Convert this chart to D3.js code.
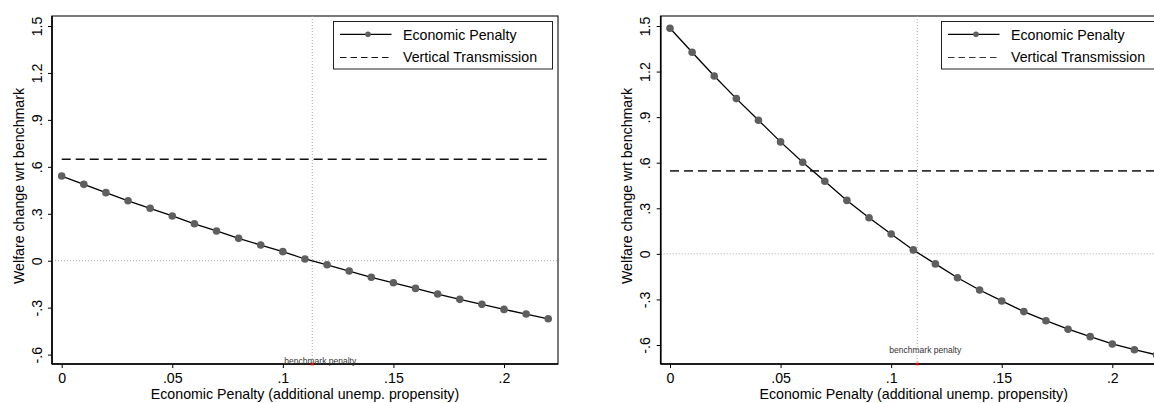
<!DOCTYPE html>
<html>
<head>
<meta charset="utf-8">
<script src="https://cdn.jsdelivr.net/npm/d3@7"></script>
<style>
  html, body { margin: 0; padding: 0; background: #fff; overflow: hidden; }
  svg { display: block; font-family: "Liberation Sans", Arial, sans-serif; }
</style>
</head>
<body>
<svg id="chart" width="1154" height="403"></svg>
<script>
// ---- data ----
const penalty = [0, 0.01, 0.02, 0.03, 0.04, 0.05, 0.06, 0.07, 0.08, 0.09, 0.10,
                 0.11, 0.12, 0.13, 0.14, 0.15, 0.16, 0.17, 0.18, 0.19, 0.20, 0.21, 0.22];
const welfareLeft = [0.541, 0.488, 0.435, 0.383, 0.335, 0.286, 0.236, 0.190, 0.143, 0.100, 0.058,
                     0.011, -0.026, -0.066, -0.106, -0.141, -0.177, -0.213, -0.247, -0.279, -0.311, -0.341, -0.371];
const welfareRight = [1.485, 1.327, 1.171, 1.022, 0.880, 0.737, 0.603, 0.478, 0.352, 0.238, 0.131,
                      0.026, -0.066, -0.157, -0.238, -0.310, -0.380, -0.440, -0.496, -0.545, -0.593, -0.631, -0.665];
const verticalLeft = 0.648;
const verticalRight = 0.546;
const benchmarkLeft = 0.1133;
const benchmarkRight = 0.1118;
const yTicks = [-0.6, -0.3, 0, 0.3, 0.6, 0.9, 1.2, 1.5];
const yTickLabels = ["-.6", "-.3", "0", ".3", ".6", ".9", "1.2", "1.5"];
const xTicks = [0, 0.05, 0.1, 0.15, 0.2];
const xTickLabels = ["0", ".05", ".1", ".15", ".2"];
const legendLabels = ["Economic Penalty", "Vertical Transmission"];
const xTitle = "Economic Penalty (additional unemp. propensity)";
const yTitle = "Welfare change wrt benchmark";
const benchLabel = "benchmark penalty";

const FS = 14.2;
const svg = d3.select("#chart");

function drawPanel(p) {
  const g = svg.append("g");
  const clipId = "clip" + p.id;
  g.append("clipPath").attr("id", clipId)
    .append("rect").attr("x", p.left).attr("y", p.top)
    .attr("width", p.right - p.left).attr("height", p.bottom - p.top);

  const x = d3.scaleLinear().domain([0, 0.2]).range([p.x0, p.x02]);
  const y = d3.scaleLinear().domain([-0.6, 1.5]).range([p.yLow, p.yHigh]);

  // frame
  g.append("rect").attr("x", p.left).attr("y", p.top)
    .attr("width", p.right - p.left).attr("height", p.bottom - p.top)
    .attr("fill", "none").attr("stroke", "#222").attr("stroke-width", 1.2);

  const plot = g.append("g").attr("clip-path", `url(#${clipId})`);

  // zero reference line
  plot.append("line")
    .attr("x1", p.left).attr("x2", p.right)
    .attr("y1", y(0)).attr("y2", y(0))
    .attr("stroke", "#aaa").attr("stroke-width", 1).attr("stroke-dasharray", "1,2");
  // benchmark vertical line
  plot.append("line")
    .attr("x1", x(p.bench)).attr("x2", x(p.bench))
    .attr("y1", p.top).attr("y2", p.bottom)
    .attr("stroke", "#aaa").attr("stroke-width", 1).attr("stroke-dasharray", "1,2");

  // vertical transmission dashed line
  plot.append("line")
    .attr("x1", x(penalty[0])).attr("x2", x(penalty[penalty.length - 1]))
    .attr("y1", y(p.vt)).attr("y2", y(p.vt))
    .attr("stroke", p.dashColor).attr("stroke-width", p.dashWidth).attr("stroke-dasharray", "9,5");

  // series line
  const line = d3.line().x((d, i) => x(penalty[i])).y(d => y(d));
  plot.append("path").datum(p.values)
    .attr("d", line).attr("fill", "none").attr("stroke", "#000").attr("stroke-width", 1.3);
  plot.selectAll("circle.pt").data(p.values).enter().append("circle")
    .attr("class", "pt")
    .attr("cx", (d, i) => x(penalty[i])).attr("cy", d => y(d))
    .attr("r", 3.8).attr("fill", "#5f5f5f");

  // axes
  const yAxis = d3.axisLeft(y).tickValues(yTicks).tickSize(4)
    .tickFormat((d, i) => yTickLabels[i]);
  const ya = g.append("g").attr("transform", `translate(${p.left},0)`).call(yAxis);
  ya.select(".domain").remove();
  ya.selectAll(".tick line").attr("stroke", "#000").attr("stroke-width", 1);
  ya.selectAll(".tick text")
    .attr("x", 0).attr("dy", 0)
    .attr("transform", "translate(-10.3,0) rotate(-90)")
    .attr("text-anchor", "middle")
    .attr("font-size", FS).attr("fill", "#000")
    .attr("font-family", "Liberation Sans, Arial, sans-serif");

  const xAxis = d3.axisBottom(x).tickValues(xTicks).tickSize(4)
    .tickFormat((d, i) => xTickLabels[i]);
  const xa = g.append("g").attr("transform", `translate(0,${p.bottom})`).call(xAxis);
  xa.select(".domain").remove();
  xa.selectAll(".tick line").attr("stroke", "#000").attr("stroke-width", 1);
  xa.selectAll(".tick text").attr("y", 0).attr("dy", 0)
    .attr("transform", "translate(0,19.3)")
    .attr("font-size", FS).attr("fill", "#000")
    .attr("font-family", "Liberation Sans, Arial, sans-serif");

  // axis lines (thicker)
  g.append("line").attr("x1", p.left).attr("x2", p.left).attr("y1", p.top).attr("y2", p.bottom)
    .attr("stroke", "#000").attr("stroke-width", 1.6);
  g.append("line").attr("x1", p.left).attr("x2", p.right).attr("y1", p.bottom).attr("y2", p.bottom)
    .attr("stroke", "#000").attr("stroke-width", 1.6);

  // benchmark marker and label
  g.append("rect").attr("x", x(p.bench) - 1.5).attr("y", p.bottom - 1.3)
    .attr("width", 3).attr("height", 2.6).attr("fill", "#e00000");
  g.append("text").attr("x", x(p.bench) + 8).attr("y", p.benchLabelY)
    .attr("text-anchor", "middle").attr("font-size", 8.5).attr("fill", "#333")
    .text(benchLabel);

  // titles
  g.append("text").attr("x", (p.left + p.right) / 2).attr("y", 398.5)
    .attr("text-anchor", "middle").attr("font-size", FS).attr("fill", "#000").text(xTitle);
  g.append("text")
    .attr("transform", `translate(${p.yTitleX},${(p.top + p.bottom) / 2 - 4}) rotate(-90)`)
    .attr("text-anchor", "middle").attr("font-size", FS).attr("fill", "#000").text(yTitle);

  // legend
  const lg = g.append("g").attr("transform", `translate(${p.legX},21.5)`);
  lg.append("rect").attr("x", 0).attr("y", 0).attr("width", 219).attr("height", 47.5)
    .attr("fill", "#fff").attr("stroke", "#222").attr("stroke-width", 1);
  lg.append("line").attr("x1", 6.5).attr("x2", 58).attr("y1", 12.8).attr("y2", 12.8)
    .attr("stroke", "#000").attr("stroke-width", 1.3);
  lg.append("circle").attr("cx", 34.5).attr("cy", 12.8).attr("r", 2.8).attr("fill", "#5f5f5f");
  lg.append("line").attr("x1", 6.5).attr("x2", 58).attr("y1", 36).attr("y2", 36)
    .attr("stroke", p.dashColor).attr("stroke-width", 1.2).attr("stroke-dasharray", "6.5,4");
  lg.append("text").attr("x", 69.5).attr("y", 18).attr("font-size", FS).attr("fill", "#000")
    .text(legendLabels[0]);
  lg.append("text").attr("x", 69.5).attr("y", 40.3).attr("font-size", FS).attr("fill", "#000")
    .text(legendLabels[1]);
}

drawPanel({
  id: "L", left: 52, right: 558, top: 16, bottom: 364,
  x0: 61.7, x02: 504, yLow: 354.6, yHigh: 26,
  values: welfareLeft, vt: verticalLeft, bench: benchmarkLeft,
  dashColor: "#111", dashWidth: 1.4, benchLabelY: 364, yTitleX: 23.5, legX: 333.5
});
drawPanel({
  id: "R", left: 660.7, right: 1166.7, top: 16, bottom: 364,
  x0: 670, x02: 1112.3, yLow: 345, yHigh: 26,
  values: welfareRight, vt: verticalRight, bench: benchmarkRight,
  dashColor: "#333", dashWidth: 1.7, benchLabelY: 352.5, yTitleX: 632, legX: 941.5
});
</script>
</body>
</html>
